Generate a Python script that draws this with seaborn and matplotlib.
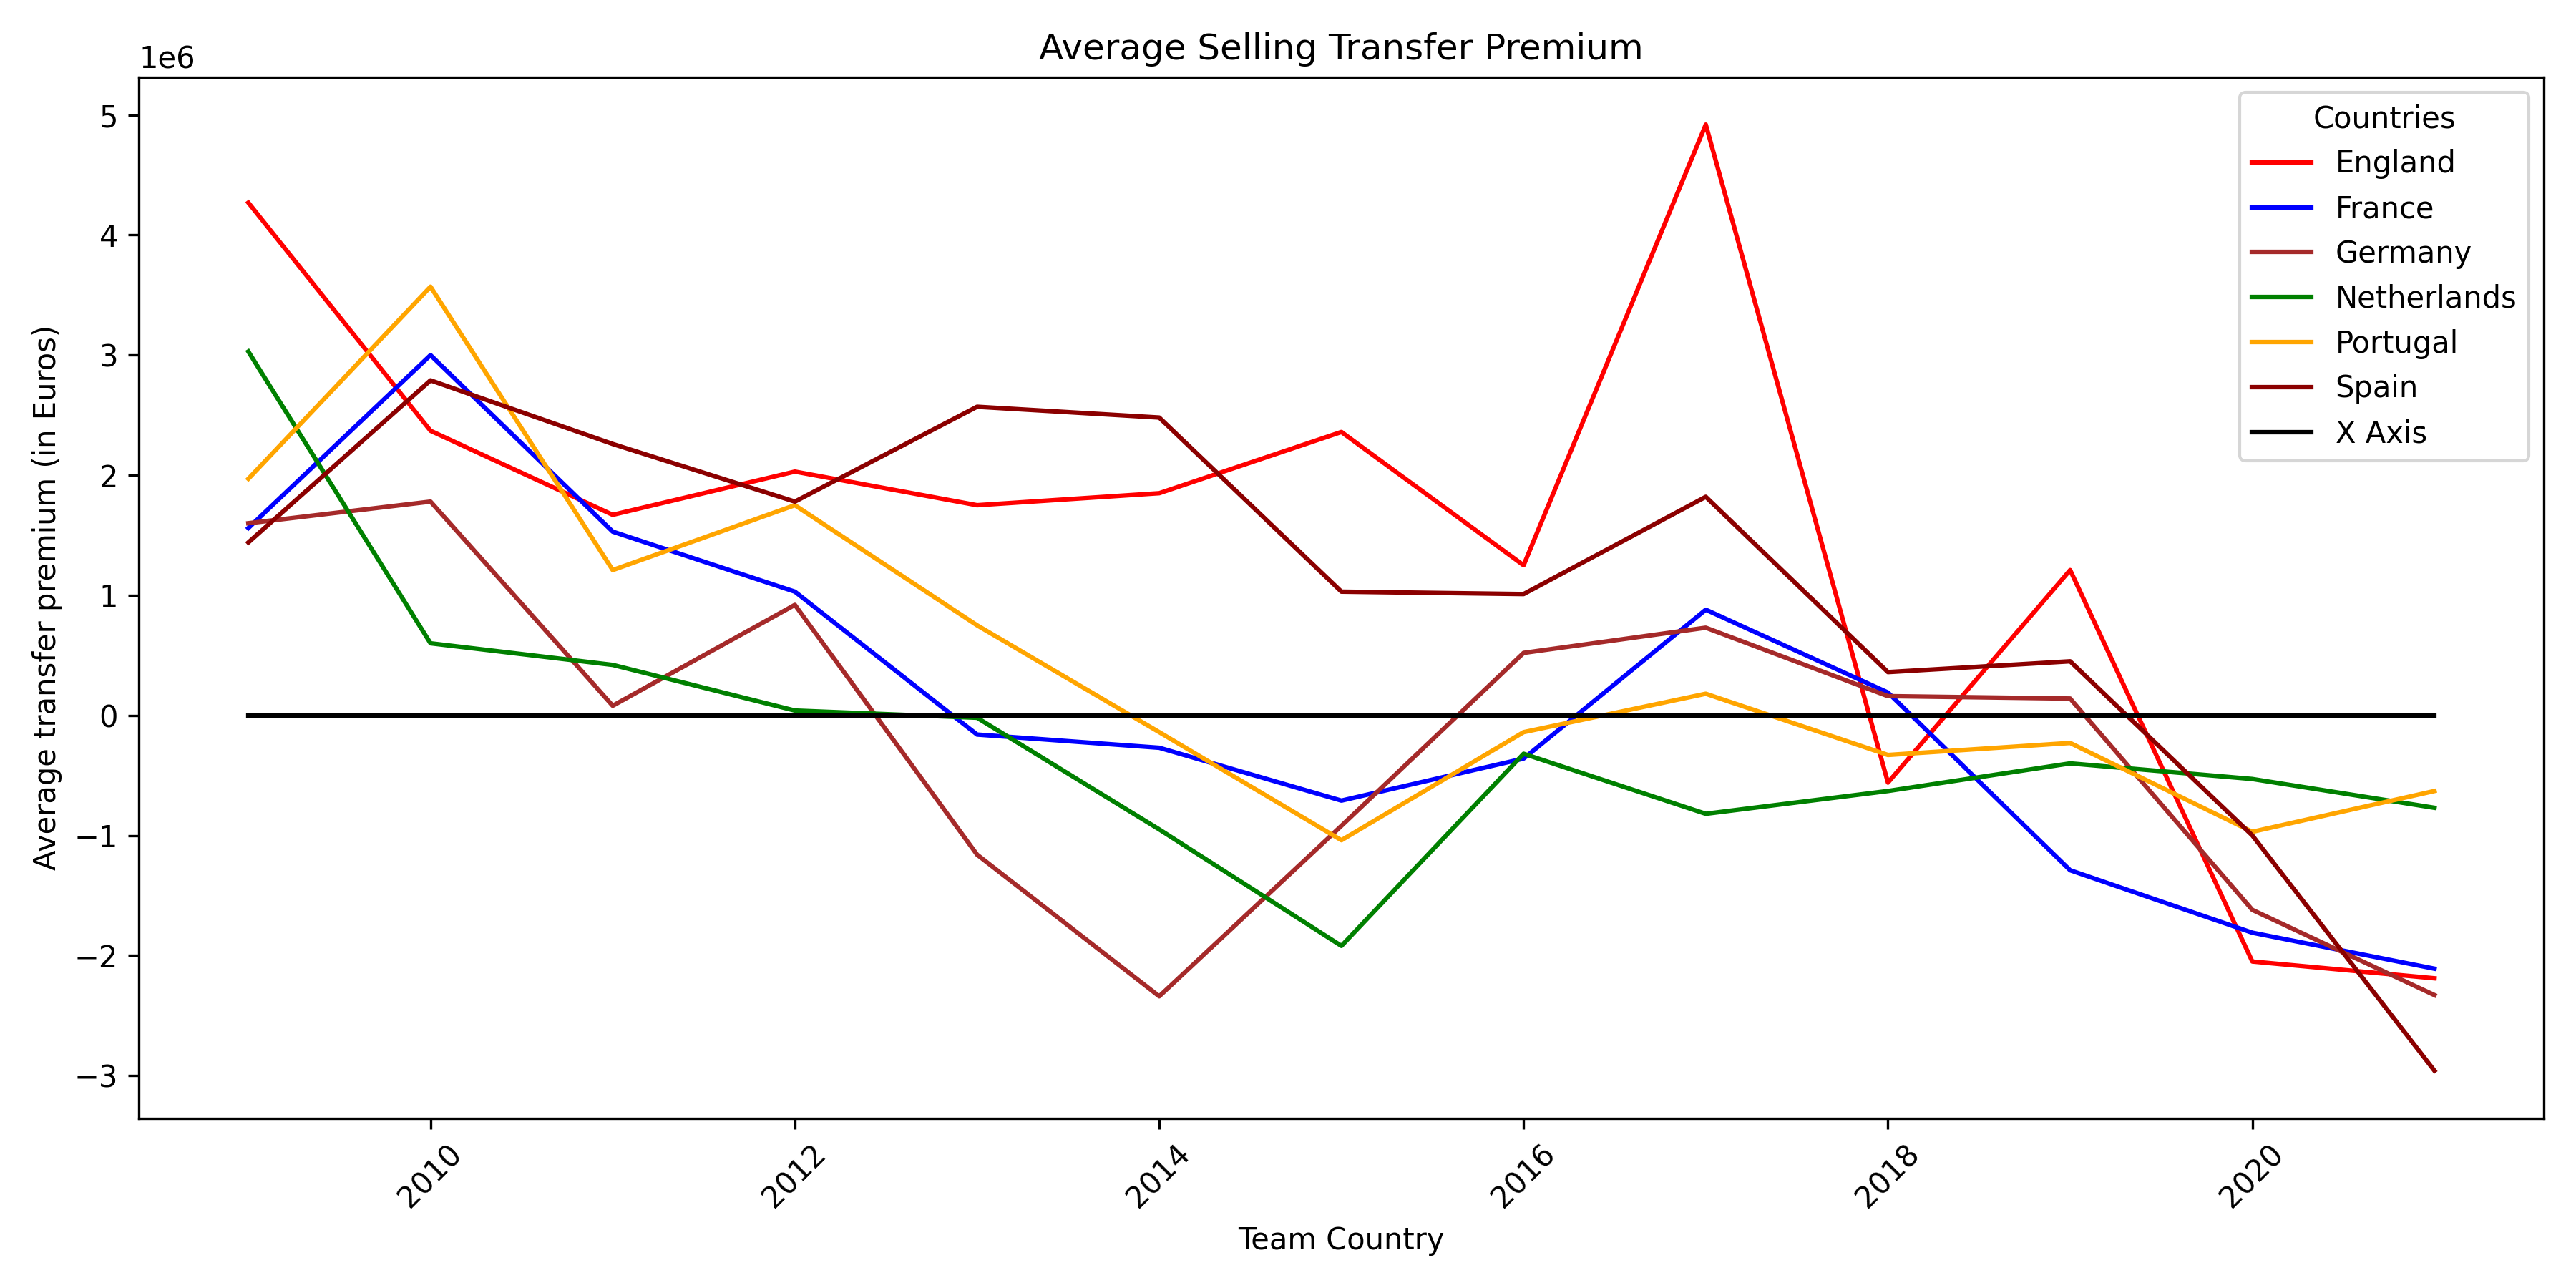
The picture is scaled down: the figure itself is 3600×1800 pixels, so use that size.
import matplotlib
matplotlib.use("Agg")
import matplotlib.pyplot as plt
import seaborn as sns
import pandas as pd

years = list(range(2009, 2022))
england = [4.27, 2.37, 1.67, 2.03, 1.75, 1.85, 2.36, 1.25, 4.92, -0.56, 1.21, -2.05, -2.19]
france = [1.56, 3.0, 1.53, 1.03, -0.16, -0.27, -0.71, -0.36, 0.88, 0.19, -1.29, -1.81, -2.11]
germany = [1.6, 1.78, 0.08, 0.92, -1.16, -2.34, -0.92, 0.52, 0.73, 0.16, 0.14, -1.62, -2.33]
netherlands = [3.03, 0.6, 0.42, 0.04, -0.02, -0.95, -1.92, -0.32, -0.82, -0.63, -0.4, -0.53, -0.77]
portugal = [1.97, 3.57, 1.21, 1.75, 0.75, -0.14, -1.04, -0.14, 0.18, -0.33, -0.23, -0.97, -0.63]
spain = [1.44, 2.79, 2.26, 1.78, 2.57, 2.48, 1.03, 1.01, 1.82, 0.36, 0.45, -1.0, -2.96]
x_axis = [0.0] * len(years)

countries = ["England", "France", "Germany", "Netherlands", "Portugal", "Spain"]
series = [england, france, germany, netherlands, portugal, spain]
colors = ["red", "blue", "brown", "green", "orange", "darkred"]

rows = []
for c, vals in zip(countries, series):
    for y, v in zip(years, vals):
        rows.append({"Year": y, "Premium": v * 1e6, "Country": c})
df = pd.DataFrame(rows)

fig, ax = plt.subplots(figsize=(12, 6), dpi=300)
sns.lineplot(data=df, x="Year", y="Premium", hue="Country",
             palette=dict(zip(countries, colors)), ax=ax)
sns.lineplot(x=years, y=x_axis, color="black", label="X Axis", ax=ax)

ax.set_title("Average Selling Transfer Premium")
ax.set_xlabel("Team Country")
ax.set_ylabel("Average transfer premium (in Euros)")
plt.setp(ax.get_xticklabels(), rotation=45)
ax.legend(title="Countries", loc="upper right")
fig.tight_layout()
fig.savefig("out.png", dpi=300)
